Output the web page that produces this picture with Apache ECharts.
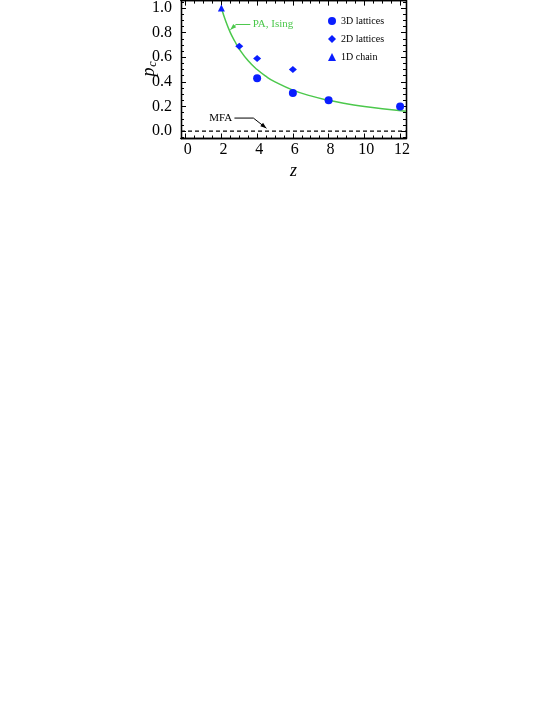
<!DOCTYPE html>
<html>
<head>
<meta charset="utf-8">
<script src="https://cdn.jsdelivr.net/npm/echarts@6/dist/echarts.min.js"></script>
<style>
html, body { margin: 0; padding: 0; background: #fff; }
#chart { width: 553px; height: 715px; }
</style>
</head>
<body>
<div id="chart"></div>
<script>
// Critical probability p_c against coordination number z

const xTicks = [0, 2, 4, 6, 8, 10, 12];
const yTicks = [0, 0.2, 0.4, 0.6, 0.8, 1.0];
const xRange = [-0.26, 12.33];
const yRange = [-0.06, 1.06];

const z3D = [4, 6, 8, 12];
const p3D = [0.43, 0.31, 0.25, 0.20];

const z2D = [3, 4, 6];
const p2D = [0.69, 0.59, 0.50];

const z1D = [2];
const p1D = [1.0];

// PA, Ising curve
const zPA = [2, 2.25, 2.5, 2.75, 3, 3.5, 4, 4.5, 5, 6, 7, 8, 9, 10, 11, 12.33];
const pPA = [1.0, 0.89, 0.80, 0.73, 0.667, 0.571, 0.50, 0.444, 0.40, 0.333, 0.286, 0.25, 0.222, 0.20, 0.182, 0.162];

// MFA
const zMFA = [-0.26, 12.33];
const pMFA = [0, 0];

const SERIF = '"Liberation Serif", "DejaVu Serif", serif';
const BLUE = '#0a1eff';
const GREEN = '#4cc84c';

const zip = (xs, ys) => xs.map((x, i) => [x, ys[i]]);

function minorTicks(range, step, majors) {
    const out = [];
    const start = Math.ceil(range[0] / step);
    for (let k = start; k * step <= range[1] + 1e-9; k++) {
        const v = Math.round(k * step * 1000) / 1000;
        if (!majors.some(m => Math.abs(m - v) < 1e-9)) out.push(v);
    }
    return out;
}

const xMinor = minorTicks(xRange, 0.5, xTicks);
const yMinor = minorTicks(yRange, 0.05, yTicks);

function xAxis(pos, ticks, len, labels) {
    return {
        type: 'value', position: pos, min: xRange[0], max: xRange[1],
        axisLine: { show: true, onZero: false, lineStyle: { color: '#000', width: 1.3 } },
        axisTick: { show: true, inside: true, length: len, customValues: ticks, lineStyle: { color: '#000', width: 1 } },
        axisLabel: labels
            ? { show: true, customValues: xTicks, color: '#000', fontFamily: SERIF, fontSize: 16, margin: 3,
                padding: [0, 0, 0, 4] }
            : { show: false },
        splitLine: { show: false }
    };
}

function yAxis(pos, ticks, len, labels) {
    return {
        type: 'value', position: pos, min: yRange[0], max: yRange[1],
        axisLine: { show: true, onZero: false, lineStyle: { color: '#000', width: 1.3 } },
        axisTick: { show: true, inside: true, length: len, customValues: ticks, lineStyle: { color: '#000', width: 1 } },
        axisLabel: labels
            ? { show: true, customValues: yTicks, color: '#000', fontFamily: SERIF, fontSize: 16, margin: 9,
                formatter: v => v.toFixed(1) }
            : { show: false },
        splitLine: { show: false }
    };
}

const chart = echarts.init(document.getElementById('chart'), null, { renderer: 'canvas' });

chart.setOption({
    animation: false,
    backgroundColor: '#fff',
    grid: { left: 181, right: 147, top: 0, bottom: 576.5 },
    xAxis: [
        xAxis('bottom', xTicks, 5, true),
        xAxis('bottom', xMinor, 3, false),
        xAxis('top', xTicks, 5, false),
        xAxis('top', xMinor, 3, false)
    ],
    yAxis: [
        yAxis('left', yTicks, 5, true),
        yAxis('left', yMinor, 3, false),
        yAxis('right', yTicks, 5, false),
        yAxis('right', yMinor, 3, false)
    ],
    legend: {
        orient: 'vertical', left: 323, top: 10,
        itemWidth: 8, itemHeight: 8, itemGap: 6,
        data: ['3D lattices', '2D lattices', '1D chain'],
        textStyle: { color: '#000', fontFamily: SERIF, fontSize: 10, lineHeight: 12 }
    },
    series: [
        {
            name: 'MFA', type: 'line', data: zip(zMFA, pMFA), symbol: 'none',
            lineStyle: { color: '#000', width: 1.3, type: [4, 3] }, z: 2
        },
        {
            name: 'PA, Ising', type: 'line', data: zip(zPA, pPA), symbol: 'none', smooth: true,
            lineStyle: { color: GREEN, width: 1.5 }, z: 3
        },
        {
            name: '3D lattices', type: 'scatter', data: zip(z3D, p3D), symbol: 'circle', symbolSize: 8,
            itemStyle: { color: BLUE, opacity: 1 }, z: 4
        },
        {
            name: '2D lattices', type: 'scatter', data: zip(z2D, p2D), symbol: 'diamond', symbolSize: [8, 7],
            itemStyle: { color: BLUE, opacity: 1 }, z: 4
        },
        {
            name: '1D chain', type: 'scatter', data: zip(z1D, p1D), symbol: 'triangle', symbolSize: 7,
            itemStyle: { color: BLUE, opacity: 1 }, z: 4
        }
    ]
});

// annotations, anchored in data coordinates
function arrow(pts, color) {
    const px = pts.map(p => chart.convertToPixel({ seriesIndex: 0 }, p));
    const n = px.length;
    const [x1, y1] = px[n - 2];
    const [x2, y2] = px[n - 1];
    const a = Math.atan2(y2 - y1, x2 - x1);
    const L = 6, W = 2.2;
    const bx = x2 - L * Math.cos(a), by = y2 - L * Math.sin(a);
    return [
        { type: 'polyline', shape: { points: px }, style: { stroke: color, lineWidth: 1, fill: null } },
        {
            type: 'polygon',
            shape: { points: [[x2, y2], [bx + W * Math.sin(a), by - W * Math.cos(a)], [bx - W * Math.sin(a), by + W * Math.cos(a)]] },
            style: { fill: color }
        }
    ];
}

function label(p, text, color, align, font) {
    const [x, y] = chart.convertToPixel({ seriesIndex: 0 }, p);
    return { type: 'text', x, y, style: { text, fill: color, font, align, verticalAlign: 'middle' } };
}

const graphics = [].concat(
    arrow([[3.62, 0.866], [2.82, 0.866], [2.50, 0.823]], GREEN),
    [label([3.75, 0.866], 'PA, Ising', GREEN, 'left', '11px ' + SERIF)],
    arrow([[2.73, 0.106], [3.79, 0.106], [4.52, 0.023]], '#000'),
    [label([2.61, 0.106], 'MFA', '#000', 'right', '11px ' + SERIF)],
    [
        { type: 'text', x: 149, y: 72, rotation: Math.PI / 2,
          style: { text: 'p', fill: '#000', font: 'italic 18px ' + SERIF, align: 'center', verticalAlign: 'middle' } },
        { type: 'text', x: 153, y: 64, rotation: Math.PI / 2,
          style: { text: 'c', fill: '#000', font: 'italic 12px ' + SERIF, align: 'center', verticalAlign: 'middle' } },
        { type: 'text', x: 293.5, y: 171,
          style: { text: 'z', fill: '#000', font: 'italic 18px ' + SERIF, align: 'center', verticalAlign: 'middle' } }
    ]
);

chart.setOption({ graphic: graphics });
</script>
</body>
</html>
